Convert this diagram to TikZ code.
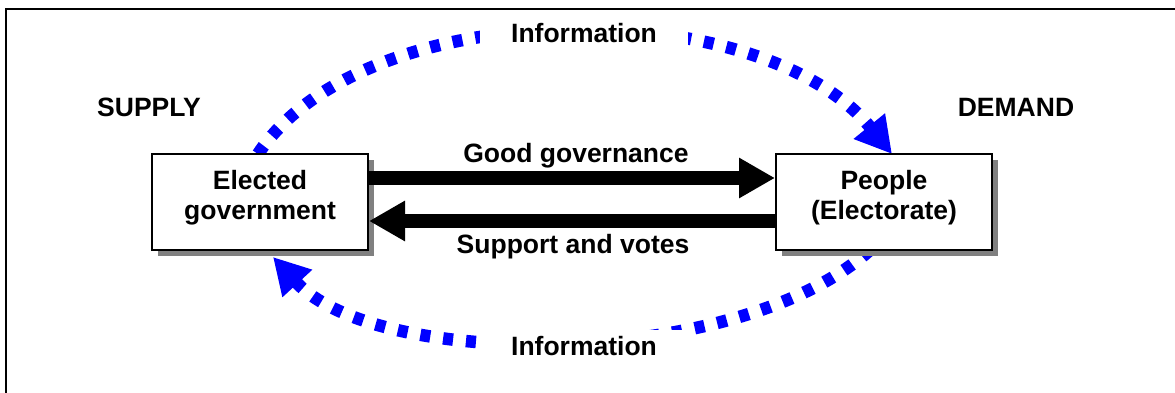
\documentclass[tikz,border=0pt]{standalone}
\usepackage{fontspec}
\setmainfont{Liberation Sans}
\usetikzlibrary{arrows.meta,shadows}
\definecolor{infoblue}{RGB}{0,0,255}
\begin{document}
\begin{tikzpicture}[x=1pt,y=-1pt,
  every node/.style={font=\fontsize{26.5}{30}\selectfont\bfseries},
  actor/.style={draw=black,line width=2pt,fill=white,minimum width=216pt,minimum height=96pt,
    drop shadow={fill=black!50,opacity=1,shadow xshift=6pt,shadow yshift=-6pt}},
  inside/.style={align=center,yshift=4pt,inner sep=0pt},
  flow/.style={line width=14pt,-{Triangle[length=36pt,width=38pt]}},
  info/.style={infoblue,line width=12.5pt,dash pattern=on 10pt off 13pt,-{Triangle[length=36pt,width=38pt]}},
  lbl/.style={anchor=base,inner sep=0pt},
  infolbl/.style={anchor=base,fill=white,inner xsep=31pt,inner ysep=6pt}]
\useasboundingbox (0,0) rectangle (1175,393);
\draw[line width=2pt] (1175,9) -- (6,9) -- (6,393);
\coordinate (egc) at (260,202);
\coordinate (ppc) at (884,202);
\path (egc) +(-2,-48) coordinate (egtop) (egc) +(13,55) coordinate (egbot);
\path (ppc) +(8,-48) coordinate (pptop) (ppc) +(-14,48) coordinate (ppbot);
\draw[info] (egtop) .. controls (365,-8) and (760,-8) .. (pptop);
\draw[info] (ppbot) .. controls (737,370) and (377,370) .. (egbot);
\node[actor,label={[inside]center:Elected\\government}] (eg) at (egc) {};
\node[actor,label={[inside]center:People\\(Electorate)}] (pp) at (ppc) {};
\draw[flow] ([yshift=24pt]eg.east) -- ([yshift=24pt]pp.west);
\draw[flow] ([yshift=-19pt]pp.west) -- ([yshift=-19pt]eg.east);
\node[lbl] (gg) at (576,162) {Good governance};
\node[lbl] (sv) at (573,253) {Support and votes};
\node[lbl] (sup) at (149,117) {SUPPLY};
\node[lbl] (dem) at (1016,117) {DEMAND};
\node[infolbl] (it) at (584,43) {Information};
\node[infolbl] (ib) at (584,355) {Information};
\end{tikzpicture}
\end{document}
